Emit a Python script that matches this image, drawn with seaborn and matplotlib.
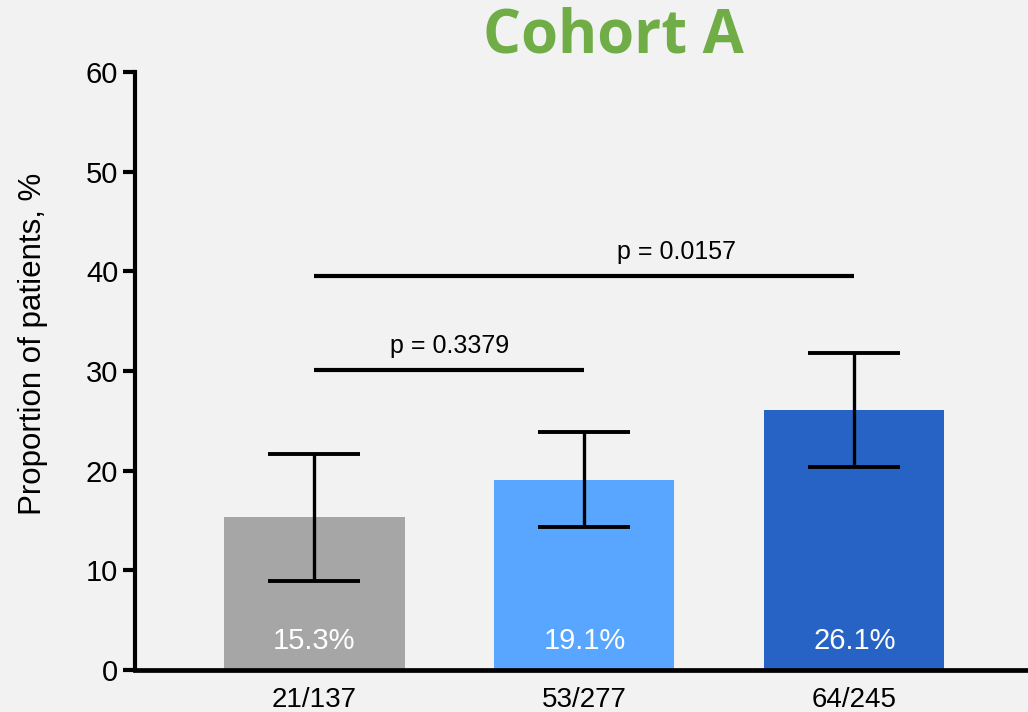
import matplotlib
matplotlib.use("Agg")
import matplotlib.pyplot as plt
import seaborn as sns
import pandas as pd

# Data
groups = ["21/137", "53/277", "64/245"]
proportions = [15.3, 19.1, 26.1]
ci_lower = [8.9, 14.3, 20.4]
ci_upper = [21.7, 23.9, 31.8]
bar_colors = ["#a6a6a6", "#58a6ff", "#2663c4"]
value_labels = ["15.3%", "19.1%", "26.1%"]
comparisons = [(0, 1, 30.1, "p = 0.3379"), (0, 2, 39.5, "p = 0.0157")]
title = "Cohort A"
ylabel = "Proportion of patients, %"

bg = "#f2f2f2"
sns.set_theme(style="white")
plt.rcParams["font.family"] = ["Liberation Sans", "DejaVu Sans"]

fig = plt.figure(figsize=(10.28, 7.12), dpi=100, facecolor=bg)
ax = fig.add_axes([0.1313, 0.059, 0.8687, 0.84])
ax.set_facecolor(bg)

df = pd.DataFrame({"group": groups, "value": proportions})
sns.barplot(data=df, x="group", y="value", hue="group", palette=bar_colors,
            width=0.667, legend=False, ax=ax, saturation=1, errorbar=None,
            linewidth=0)

# 95% CI error bars
xs = list(range(len(groups)))
yerr = [[p - lo for p, lo in zip(proportions, ci_lower)],
        [hi - p for p, hi in zip(proportions, ci_upper)]]
ax.errorbar(xs, proportions, yerr=yerr, fmt="none", ecolor="black",
            elinewidth=2.4, capsize=33, capthick=2.8, zorder=5)

# Value labels inside bars
for x, lab in zip(xs, value_labels):
    ax.text(x, 2.9, lab, ha="center", va="center", color="white", fontsize=21)

# Significance brackets
for i, j, y, txt in comparisons:
    ax.plot([i, j], [y, y], color="black", lw=3, solid_capstyle="butt", zorder=5)
for i, j, y, txt in comparisons:
    if j - i == 1:
        tx = (i + j) / 2
    else:
        tx = 1.34
    ax.text(tx, y + 1.2, txt, ha="center", va="bottom", fontsize=18, color="black")

ax.set_ylim(0, 60)
ax.set_xlim(-0.665, 2.643)
ax.set_yticks(range(0, 61, 10))
ax.set_xlabel("")
ax.set_ylabel(ylabel, fontsize=22.5, color="black")
ax.yaxis.set_label_coords(-0.097, 0.545)

for s in ["top", "right"]:
    ax.spines[s].set_visible(False)
ax.spines["left"].set_linewidth(3)
ax.spines["bottom"].set_linewidth(3.4)
ax.spines["left"].set_color("black")
ax.spines["bottom"].set_color("black")

ax.tick_params(axis="y", which="major", left=True, length=9, width=3,
               labelsize=21, pad=3, colors="black")
ax.tick_params(axis="x", bottom=False, labelsize=20, pad=6, colors="black")

fig.text(0.597, 0.948, title, ha="center", va="center", fontsize=43,
         fontweight="bold", color="#70ad47", family=["Open Sans", "DejaVu Sans"])

fig.savefig("out.png", dpi=100, facecolor=bg)
